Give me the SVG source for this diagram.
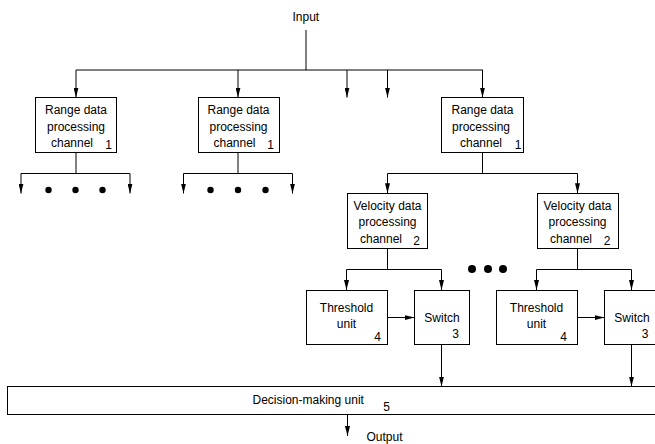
<svg xmlns="http://www.w3.org/2000/svg" width="655" height="444" viewBox="0 0 655 444">
<style>
.box{fill:#fff;stroke:#000;stroke-width:1}
.ln{fill:none;stroke:#000;stroke-width:1}
.ar{fill:none;stroke:#000;stroke-width:1;marker-end:url(#ah)}
text{font-family:"Liberation Sans",Arial,sans-serif;font-size:12px;fill:#000}
.c{text-anchor:middle}
.dot{fill:#000}
</style>
<defs>
<marker id="ah" markerUnits="userSpaceOnUse" viewBox="0 0 10 5" refX="10" refY="2.5" markerWidth="10" markerHeight="5" orient="auto">
<path d="M0,0 L10,2.5 L0,5 z" fill="#000"/>
</marker>
</defs>
<g id="connectors">
<line class="ln" x1="306" y1="30" x2="306" y2="70"/>
<line class="ln" x1="76" y1="70" x2="483" y2="70"/>
<line class="ar" x1="76" y1="70" x2="76" y2="97.5"/>
<line class="ar" x1="238" y1="70" x2="238" y2="97.5"/>
<line class="ar" x1="347" y1="70" x2="347" y2="97.5"/>
<line class="ar" x1="387.5" y1="70" x2="387.5" y2="97.5"/>
<line class="ar" x1="482.5" y1="70" x2="482.5" y2="97.5"/>
<line class="ln" x1="76" y1="152.5" x2="76" y2="173.5"/>
<line class="ln" x1="21" y1="173.5" x2="130" y2="173.5"/>
<line class="ar" x1="21" y1="173.5" x2="21" y2="193.5"/>
<line class="ar" x1="130" y1="173.5" x2="130" y2="193.5"/>
<line class="ln" x1="238" y1="152.5" x2="238" y2="173.5"/>
<line class="ln" x1="183.5" y1="173.5" x2="292.5" y2="173.5"/>
<line class="ar" x1="183.5" y1="173.5" x2="183.5" y2="193.5"/>
<line class="ar" x1="292.5" y1="173.5" x2="292.5" y2="193.5"/>
<line class="ln" x1="482.5" y1="152.5" x2="482.5" y2="173.5"/>
<line class="ln" x1="387.5" y1="173.5" x2="577.5" y2="173.5"/>
<line class="ar" x1="387.5" y1="173.5" x2="387.5" y2="193.3"/>
<line class="ar" x1="577.5" y1="173.5" x2="577.5" y2="193.3"/>
<line class="ln" x1="387.5" y1="248.5" x2="387.5" y2="269.5"/>
<line class="ln" x1="346.5" y1="269.5" x2="441.5" y2="269.5"/>
<line class="ar" x1="346.5" y1="269.5" x2="346.5" y2="290"/>
<line class="ar" x1="441.5" y1="269.5" x2="441.5" y2="290"/>
<line class="ln" x1="577.5" y1="248.5" x2="577.5" y2="269.5"/>
<line class="ln" x1="536.5" y1="269.5" x2="631.5" y2="269.5"/>
<line class="ar" x1="536.5" y1="269.5" x2="536.5" y2="290"/>
<line class="ar" x1="631.5" y1="269.5" x2="631.5" y2="290"/>
<line class="ar" x1="387.5" y1="317.5" x2="414.5" y2="317.5"/>
<line class="ar" x1="577.5" y1="317.5" x2="604.5" y2="317.5"/>
<line class="ar" x1="441.5" y1="344.5" x2="441.5" y2="386.5"/>
<line class="ar" x1="631.5" y1="344.5" x2="631.5" y2="386.5"/>
<line class="ar" x1="347.5" y1="414.5" x2="347.5" y2="436"/>
<circle class="dot" cx="48.5" cy="190" r="3.2"/>
<circle class="dot" cx="75.5" cy="190" r="3.2"/>
<circle class="dot" cx="102.5" cy="190" r="3.2"/>
<circle class="dot" cx="210.5" cy="190" r="3.2"/>
<circle class="dot" cx="238" cy="190" r="3.2"/>
<circle class="dot" cx="265.5" cy="190" r="3.2"/>
<circle class="dot" cx="472" cy="269" r="4"/>
<circle class="dot" cx="488" cy="269" r="4"/>
<circle class="dot" cx="503" cy="269" r="4"/>
</g>
<g id="input"><text x="292.5" y="20.5">Input</text></g>
<g id="range1">
<rect class="box" x="35.5" y="97.5" width="81" height="55"/>
<text class="c" x="76" y="114">Range data</text>
<text class="c" x="76" y="130.5">processing</text>
<text class="c" x="72" y="147">channel</text>
<text class="c" x="108.5" y="148.5">1</text>
</g>
<g id="range2">
<rect class="box" x="198.5" y="97.5" width="81" height="55"/>
<text class="c" x="238.5" y="114">Range data</text>
<text class="c" x="238.5" y="130.5">processing</text>
<text class="c" x="234.5" y="147">channel</text>
<text class="c" x="270.5" y="148.5">1</text>
</g>
<g id="range3">
<rect class="box" x="441.5" y="97.5" width="82" height="55"/>
<text class="c" x="482.5" y="114">Range data</text>
<text class="c" x="481" y="130.5">processing</text>
<text class="c" x="481" y="147">channel</text>
<text class="c" x="518" y="148.5">1</text>
</g>
<g id="velocity1">
<rect class="box" x="347.5" y="193.5" width="80" height="55"/>
<text class="c" x="387.5" y="209.5">Velocity data</text>
<text class="c" x="387.5" y="226">processing</text>
<text class="c" x="381" y="242.5">channel</text>
<text class="c" x="416.5" y="245">2</text>
</g>
<g id="velocity2">
<rect class="box" x="537.5" y="193.5" width="81" height="55"/>
<text class="c" x="577.5" y="209.5">Velocity data</text>
<text class="c" x="577.5" y="226">processing</text>
<text class="c" x="571" y="242.5">channel</text>
<text class="c" x="607" y="245">2</text>
</g>
<g id="threshold1">
<rect class="box" x="306.5" y="290.5" width="81" height="54"/>
<text class="c" x="346.5" y="311.5">Threshold</text>
<text class="c" x="346.5" y="327.5">unit</text>
<text class="c" x="377.5" y="341">4</text>
</g>
<g id="switch1">
<rect class="box" x="414.5" y="290.5" width="55" height="54"/>
<text class="c" x="442" y="321.5">Switch</text>
<text class="c" x="455.5" y="337.5">3</text>
</g>
<g id="threshold2">
<rect class="box" x="496.5" y="290.5" width="81" height="54"/>
<text class="c" x="536.5" y="311.5">Threshold</text>
<text class="c" x="536.5" y="327.5">unit</text>
<text class="c" x="563.5" y="341">4</text>
</g>
<g id="switch2">
<rect class="box" x="604.5" y="290.5" width="60" height="54"/>
<text class="c" x="632" y="321.5">Switch</text>
<text class="c" x="645" y="337.5">3</text>
</g>
<g id="decision">
<rect class="box" x="7.5" y="386.5" width="660" height="28"/>
<text x="252.5" y="403.5">Decision-making unit</text>
<text class="c" x="386.5" y="411">5</text>
</g>
<g id="output"><text x="366.5" y="440.5">Output</text></g>
</svg>
